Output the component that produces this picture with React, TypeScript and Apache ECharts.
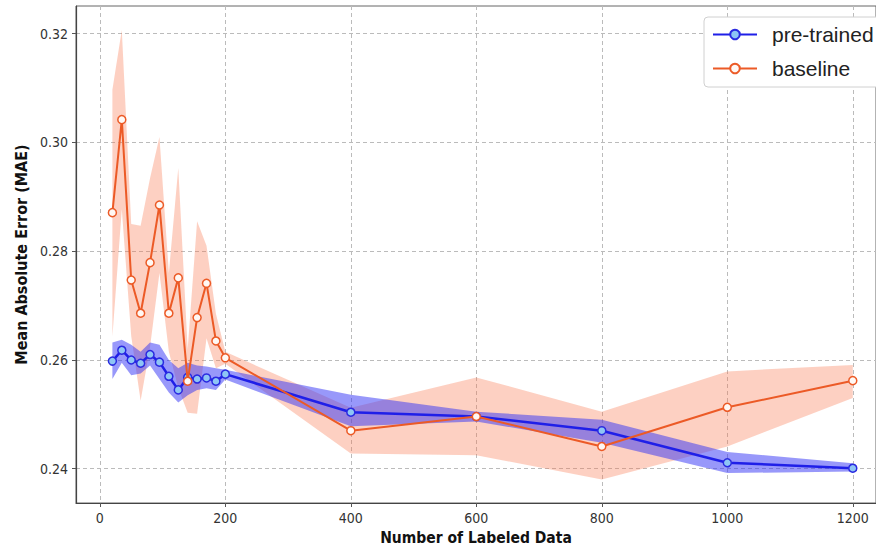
import React, { useEffect, useRef } from "react";
import * as echarts from "echarts";

const xs = [20, 35, 50, 65, 80, 95, 110, 125, 140, 155, 170, 185, 200, 400, 600, 800, 1000, 1200];

const preTrained = [0.2598, 0.2618, 0.2600, 0.2594, 0.2610, 0.2596, 0.2570, 0.2545, 0.2568, 0.2565, 0.2567, 0.2561, 0.2574, 0.2504, 0.2496, 0.2470, 0.2411, 0.2401];
const preTrainedLow = [0.2565, 0.2595, 0.2572, 0.2575, 0.2590, 0.2565, 0.2540, 0.2522, 0.2535, 0.2545, 0.2548, 0.2545, 0.2564, 0.2478, 0.2487, 0.2448, 0.2392, 0.2395];
const preTrainedHigh = [0.2632, 0.2637, 0.2628, 0.2615, 0.2632, 0.2628, 0.2600, 0.2585, 0.2595, 0.2590, 0.2588, 0.2585, 0.2582, 0.2536, 0.2505, 0.2490, 0.2431, 0.2410];

const baseline = [0.2871, 0.3042, 0.2747, 0.2686, 0.2779, 0.2885, 0.2686, 0.2751, 0.2561, 0.2678, 0.2741, 0.2635, 0.2604, 0.2470, 0.2496, 0.2441, 0.2513, 0.2562];
const baselineLow = [0.2643, 0.2877, 0.2644, 0.2525, 0.2624, 0.2760, 0.2615, 0.2549, 0.2503, 0.2501, 0.2640, 0.2585, 0.2593, 0.2428, 0.2425, 0.2380, 0.2441, 0.2530];
const baselineHigh = [0.3097, 0.3207, 0.2850, 0.2847, 0.2934, 0.3010, 0.2760, 0.2953, 0.2620, 0.2855, 0.2810, 0.2685, 0.2615, 0.2512, 0.2568, 0.2505, 0.2579, 0.2591];

const xTicks = [0, 200, 400, 600, 800, 1000, 1200];
const yTicks = [0.24, 0.26, 0.28, 0.30, 0.32];

const TICK_FONT = '"DejaVu Sans Condensed", "Liberation Sans Narrow", "DejaVu Sans", sans-serif';

function band(name: string, lo: number[], hi: number[], color: string, z: number) {
  return {
    type: "custom",
    name,
    silent: true,
    z,
    data: xs.map((x, i) => [x, lo[i], hi[i]]),
    encode: { x: 0, y: [1, 2] },
    renderItem: (params: any, api: any) => {
      if (params.dataIndex !== 0) return { type: "group", children: [] };
      const pts: number[][] = [];
      for (let i = 0; i < xs.length; i++) pts.push(api.coord([xs[i], hi[i]]));
      for (let i = xs.length - 1; i >= 0; i--) pts.push(api.coord([xs[i], lo[i]]));
      return { type: "polygon", shape: { points: pts }, style: { fill: color } };
    },
  };
}

export default function App() {
  const ref = useRef<HTMLDivElement>(null);
  useEffect(() => {
    const chart = echarts.init(ref.current!, null, { renderer: "svg" });
    chart.setOption({
      animation: false,
      backgroundColor: "#ffffff",
      grid: {
        left: 76,
        right: 0,
        top: 6,
        bottom: 47,
        show: true,
        borderColor: "#666",
        borderWidth: 1,
        containLabel: false,
        outerBoundsMode: "none",
      },
      legend: {
        left: 704,
        top: 17,
        orient: "vertical",
        data: ["pre-trained", "baseline"],
        backgroundColor: "#fff",
        borderColor: "#d0d0d0",
        borderWidth: 1,
        borderRadius: 4,
        padding: [7, 20, 8, 8],
        itemWidth: 44,
        itemHeight: 12,
        itemGap: 13,
        textStyle: {
          fontSize: 21,
          color: "#222",
          fontFamily: '"Liberation Sans", "Noto Sans", sans-serif',
          padding: [0, 0, 0, 10],
        },
      },
      xAxis: {
        type: "value",
        min: -38,
        max: 1237,
        name: "Number of Labeled Data",
        nameLocation: "middle",
        nameGap: 27,
        nameTextStyle: { fontSize: 15.5, fontWeight: "bold", color: "#111", fontFamily: TICK_FONT },
        axisLine: { show: true, onZero: false, lineStyle: { color: "#444", width: 1.2 } },
        axisTick: { show: true, length: 4, lineStyle: { color: "#555" }, customValues: xTicks },
        axisLabel: {
          customValues: xTicks,
          fontSize: 14,
          color: "#333",
          fontFamily: TICK_FONT,
          margin: 8,
          formatter: (v: number) => String(v),
        },
        splitLine: { show: true, lineStyle: { color: "#bbb", type: [4, 3], width: 1 } },
      },
      yAxis: {
        type: "value",
        min: 0.2337,
        max: 0.3251,
        name: "Mean Absolute Error (MAE)",
        nameLocation: "middle",
        nameGap: 44,
        nameTextStyle: { fontSize: 16, fontWeight: "bold", color: "#111", fontFamily: TICK_FONT },
        axisLine: { show: true, onZero: false, lineStyle: { color: "#444", width: 1.2 } },
        axisTick: { show: true, length: 4, lineStyle: { color: "#555" }, customValues: yTicks },
        axisLabel: {
          customValues: yTicks,
          fontSize: 14,
          color: "#333",
          fontFamily: TICK_FONT,
          margin: 8,
          formatter: (v: number) => v.toFixed(2),
        },
        splitLine: { show: true, lineStyle: { color: "#bbb", type: [4, 3], width: 1 } },
      },
      series: [
        band("baseline-band", baselineLow, baselineHigh, "rgba(248,120,80,0.35)", 1),
        band("pre-trained-band", preTrainedLow, preTrainedHigh, "rgba(50,50,245,0.5)", 2),
        {
          type: "line",
          name: "pre-trained",
          z: 3,
          data: xs.map((x, i) => [x, preTrained[i]]),
          lineStyle: { color: "#1f1fe8", width: 2.5 },
          itemStyle: { color: "#8ec5f5", borderColor: "#2a2ae0", borderWidth: 1.5 },
          symbol: "circle",
          symbolSize: 8,
          showAllSymbol: true,
        },
        {
          type: "line",
          name: "baseline",
          z: 4,
          data: xs.map((x, i) => [x, baseline[i]]),
          lineStyle: { color: "#ec5a26", width: 2 },
          itemStyle: { color: "#fff8f4", borderColor: "#ec5a26", borderWidth: 1.5 },
          symbol: "circle",
          symbolSize: 8,
          showAllSymbol: true,
        },
      ],
    });
    return () => chart.dispose();
  }, []);
  return <div ref={ref} style={{ width: 876, height: 550, position: "absolute", left: 0, top: 0 }} />;
}
